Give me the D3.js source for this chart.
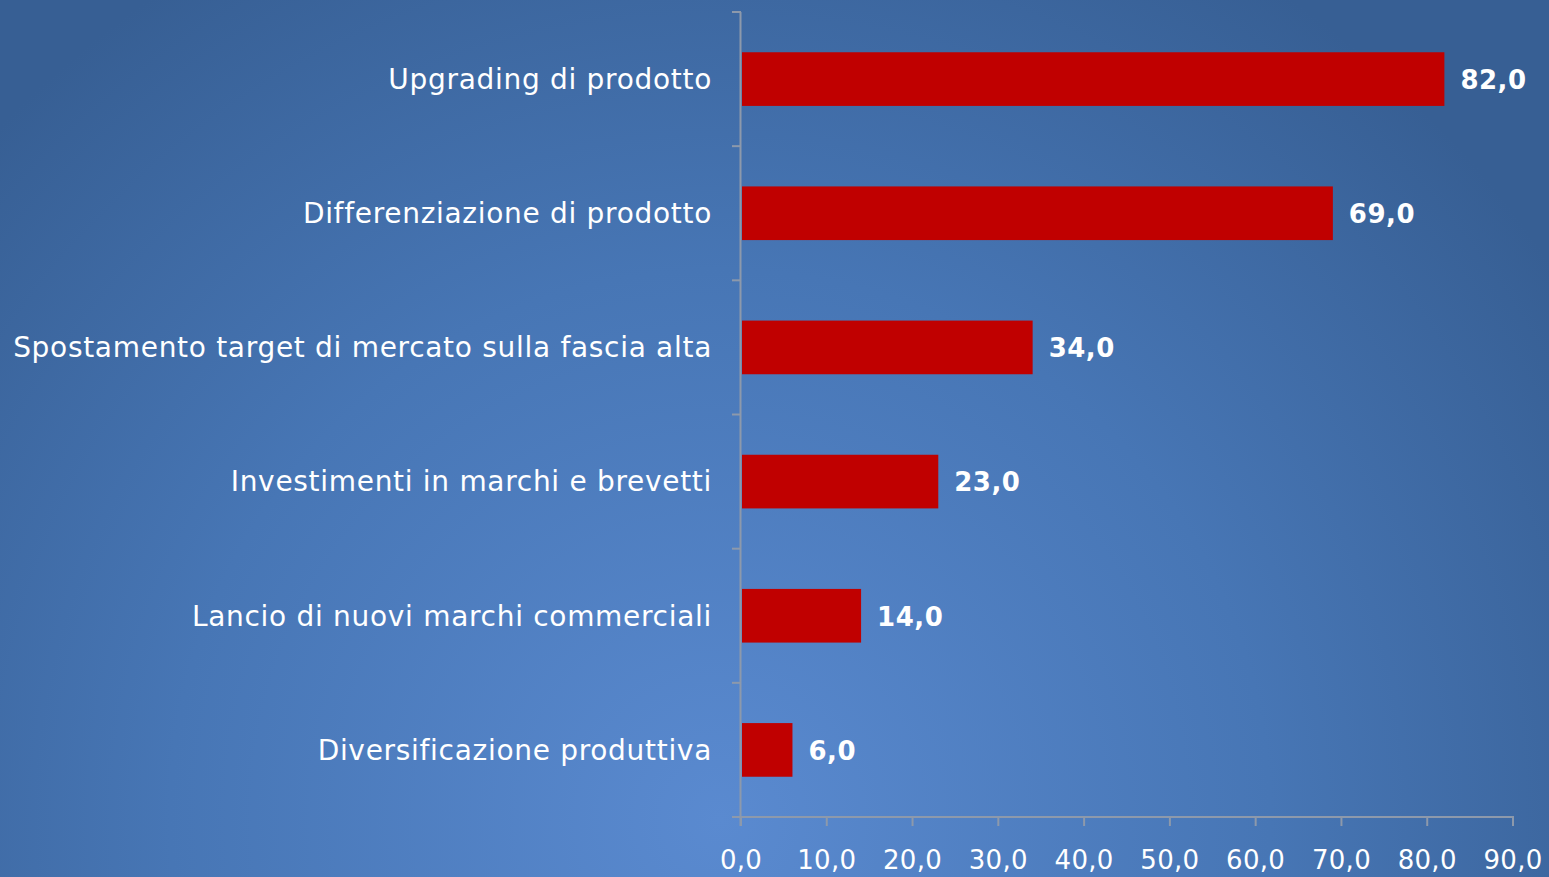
<!DOCTYPE html>
<html><head><meta charset="utf-8">
<script src="https://cdn.jsdelivr.net/npm/d3@7"></script>
<style>html,body{margin:0;padding:0;overflow:hidden;background:#3f6aa5}</style>
</head><body>
<script>
const categories = ["Upgrading di prodotto","Differenziazione di prodotto","Spostamento target di mercato sulla fascia alta","Investimenti in marchi e brevetti","Lancio di nuovi marchi commerciali","Diversificazione produttiva"];
const values = [82.0, 69.0, 34.0, 23.0, 14.0, 6.0];
const xTicks = [0,10,20,30,40,50,60,70,80,90];

const W=1549,H=877;
const svg=d3.select("body").append("svg").attr("width",W).attr("height",H);
const defs=svg.append("defs");
const g=defs.append("radialGradient").attr("id","bg").attr("gradientUnits","userSpaceOnUse")
  .attr("cx",720).attr("cy",820).attr("r",1000);
g.append("stop").attr("offset","0").attr("stop-color","#5a8ad0");
g.append("stop").attr("offset","0.55").attr("stop-color","#4776b5");
g.append("stop").attr("offset","1").attr("stop-color","#375f94");
svg.append("rect").attr("width",W).attr("height",H).attr("fill","url(#bg)");

const x=d3.scaleLinear().domain([0,90]).range([741,1513]);
const y=d3.scaleBand().domain(categories).range([12,817]).paddingInner(0.6).paddingOuter(0.3);
const font="DejaVu Sans, Verdana, sans-serif";
const axisColor="#8d99ab";

svg.selectAll("rect.bar").data(values).join("rect").attr("class","bar")
  .attr("x",x(0)+1).attr("y",(d,i)=>y(categories[i]))
  .attr("width",d=>x(d)-x(0)-1).attr("height",y.bandwidth()).attr("fill","#c00000");

svg.append("line").attr("x1",740.5).attr("x2",740.5).attr("y1",12).attr("y2",826).attr("stroke",axisColor).attr("stroke-width",2);
const bounds=d3.range(categories.length+1).map(i=>12+i*(817-12)/categories.length);
svg.selectAll("line.yt").data(bounds).join("line").attr("class","yt")
  .attr("x1",732).attr("x2",741).attr("y1",d=>d).attr("y2",d=>d).attr("stroke",axisColor).attr("stroke-width",2);

svg.append("line").attr("x1",732).attr("x2",x(90)+1).attr("y1",817).attr("y2",817).attr("stroke",axisColor).attr("stroke-width",2);
svg.selectAll("line.xt").data(xTicks).join("line").attr("class","xt")
  .attr("x1",d=>x(d)).attr("x2",d=>x(d)).attr("y1",817).attr("y2",826).attr("stroke",axisColor).attr("stroke-width",2);
const fmt=d=>d.toFixed(1).replace(".",",");
svg.selectAll("text.xl").data(xTicks).join("text").attr("class","xl")
  .attr("x",d=>x(d)).attr("y",869).attr("text-anchor","middle")
  .attr("font-family",font).attr("font-size",26).attr("letter-spacing","0.3px").attr("fill","#fff").text(fmt);

svg.selectAll("text.cl").data(categories).join("text").attr("class","cl")
  .attr("x",712).attr("y",d=>y(d)+y.bandwidth()/2).attr("dy","0.35em").attr("text-anchor","end")
  .attr("font-family",font).attr("font-size",28).attr("letter-spacing","0.7px").attr("fill","#fff").text(d=>d);

svg.selectAll("text.vl").data(values).join("text").attr("class","vl")
  .attr("x",d=>x(d)+16).attr("y",(d,i)=>y(categories[i])+y.bandwidth()/2).attr("dy","0.38em")
  .attr("font-family",font).attr("font-size",26).attr("letter-spacing","0.5px").attr("font-weight","bold").attr("fill","#fff").text(fmt);
</script>
</body></html>
